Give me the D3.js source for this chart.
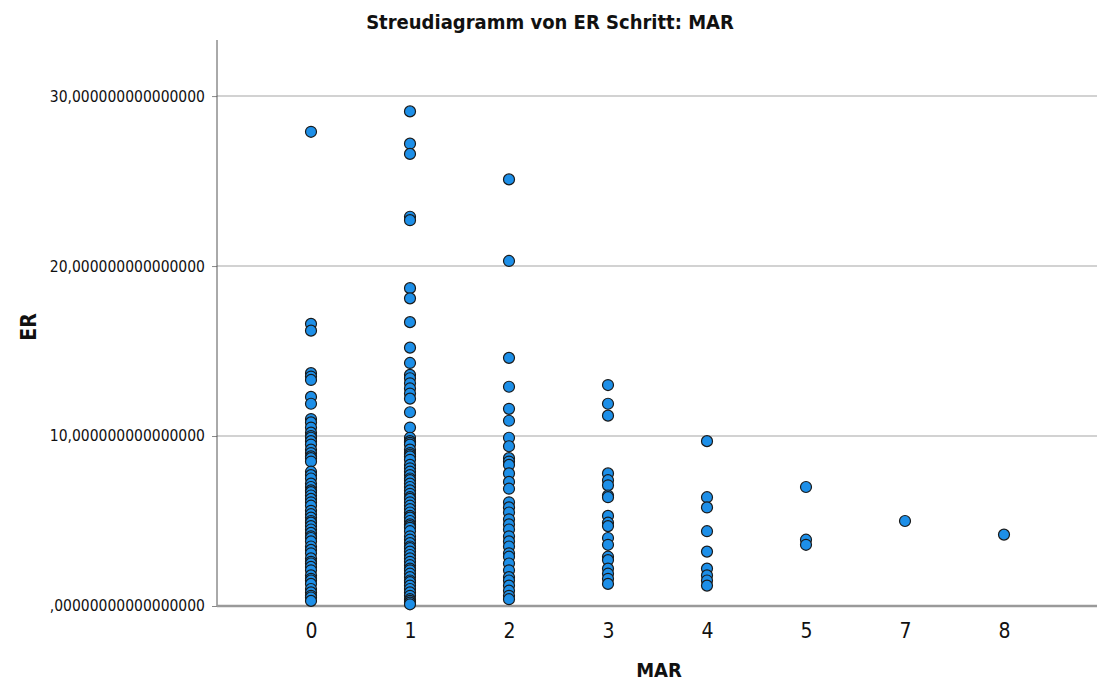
<!DOCTYPE html>
<html>
<head>
<meta charset="utf-8">
<script src="https://cdn.jsdelivr.net/npm/d3@7"></script>
<style>
  body { margin: 0; background: #fff; }
  text { font-family: "DejaVu Sans Condensed", "DejaVu Sans", sans-serif; fill: #111; }
</style>
</head>
<body>
<svg id="chart" width="1097" height="684"></svg>
<script>
// categories on the x axis (MAR), 6 is not present
var marCategories = ["0", "1", "2", "3", "4", "5", "7", "8"];

// ER values, one list per MAR category
var er0 = [27.9, 16.6, 16.2, 13.7, 13.5, 13.3, 12.3, 11.9, 11.0, 10.8, 10.5, 10.2, 10.0, 9.9, 9.7, 9.5,
  9.2, 9.0, 8.8, 8.7, 8.5, 7.9, 7.7, 7.5, 7.2, 7.0, 6.8, 6.7, 6.5, 6.3, 6.1, 5.9, 5.6, 5.4, 5.2,
  5.0, 4.9, 4.7, 4.5, 4.3, 4.1, 4.0, 3.8, 3.5, 3.3, 3.1, 2.8, 2.6, 2.5, 2.3, 2.1, 1.8, 1.6, 1.5,
  1.3, 1.0, 0.8, 0.6, 0.5, 0.3];
var er1 = [29.1, 27.2, 26.6, 22.9, 22.7, 18.7, 18.1, 16.7, 15.2, 14.3, 13.6, 13.4, 13.1, 12.8, 12.5,
  12.2, 11.4, 10.5, 9.9, 9.7, 9.6, 9.5, 9.2, 9.0, 8.9, 8.8, 8.6, 8.3, 8.1, 7.9, 7.7, 7.5, 7.4, 7.2,
  7.0, 6.8, 6.6, 6.4, 6.3, 6.1, 5.9, 5.7, 5.5, 5.3, 5.2, 5.0, 4.8, 4.7, 4.6, 4.4, 4.1, 3.9, 3.7,
  3.5, 3.4, 3.2, 3.0, 2.8, 2.6, 2.4, 2.2, 2.1, 1.9, 1.7, 1.5, 1.4, 1.2, 1.0, 0.8, 0.6, 0.4, 0.3,
  0.2, 0.1];
var er2 = [25.1, 20.3, 14.6, 12.9, 11.6, 10.9, 9.9, 9.4, 8.7, 8.5, 8.3, 7.8, 7.3, 6.9, 6.1, 5.8, 5.5,
  5.1, 4.8, 4.5, 4.1, 3.8, 3.5, 3.1, 2.9, 2.5, 2.1, 1.7, 1.5, 1.2, 0.9, 0.6, 0.4];
var er3 = [13.0, 11.9, 11.2, 7.8, 7.4, 7.1, 6.5, 6.4, 5.3, 4.9, 4.7, 4.0, 3.6, 2.9, 2.7, 2.2, 1.9, 1.6, 1.3];
var er4 = [9.7, 6.4, 5.8, 4.4, 3.2, 2.2, 1.8, 1.5, 1.2];
var er5 = [7.0, 3.9, 3.6];
var er7 = [5.0];
var er8 = [4.2];

var yTickValues = [0, 10, 20, 30];
var yTickLabels = [",00000000000000000", "10,000000000000000", "20,000000000000000", "30,000000000000000"];

var titleText = "Streudiagramm von ER Schritt: MAR";
var xTitle = "MAR";
var yTitle = "ER";

// build point list
var groups = [er0, er1, er2, er3, er4, er5, er7, er8];
var points = [];
groups.forEach(function(g, i) {
  g.forEach(function(v) {
    points.push({ mar: marCategories[i], er: v });
  });
});

var plot = { left: 217, right: 1097, top: 40, bottom: 606 };

var svg = d3.select("#chart");

var x = d3.scalePoint()
  .domain(marCategories)
  .range([311, 1004]);

var y = d3.scaleLinear()
  .domain([0, 33.3])
  .range([plot.bottom, plot.top]);

// gridlines
svg.append("g").selectAll("line")
  .data(yTickValues.filter(function(d) { return d > 0; }))
  .enter().append("line")
  .attr("x1", plot.left)
  .attr("x2", plot.right)
  .attr("y1", function(d) { return y(d); })
  .attr("y2", function(d) { return y(d); })
  .attr("stroke", "#d2d2d2")
  .attr("stroke-width", 2);

// y axis
var yAxis = d3.axisLeft(y)
  .tickValues(yTickValues)
  .tickSize(5)
  .tickPadding(7)
  .tickFormat(function(d, i) { return yTickLabels[i]; });

var gy = svg.append("g")
  .attr("transform", "translate(" + plot.left + ",0)")
  .call(yAxis);
gy.select(".domain").remove();
gy.selectAll(".tick line").attr("stroke", "#888");
gy.selectAll(".tick text")
  .style("font-family", "'DejaVu Sans Condensed', sans-serif")
  .style("font-size", "15.5px")
  .attr("fill", "#111");

svg.append("line")
  .attr("x1", plot.left).attr("x2", plot.left)
  .attr("y1", plot.top).attr("y2", plot.bottom)
  .attr("stroke", "#555").attr("stroke-width", 1);

// x axis
var xAxis = d3.axisBottom(x).tickSize(0).tickPadding(17);
var gx = svg.append("g")
  .attr("transform", "translate(0," + plot.bottom + ")")
  .call(xAxis);
gx.select(".domain").remove();
gx.selectAll(".tick text")
  .style("font-family", "'DejaVu Sans Condensed', sans-serif")
  .style("font-size", "21px")
  .attr("fill", "#111");

svg.append("line")
  .attr("x1", plot.left).attr("x2", plot.right)
  .attr("y1", plot.bottom).attr("y2", plot.bottom)
  .attr("stroke", "#9a9a9a").attr("stroke-width", 2.5);

// points
svg.append("g").selectAll("circle")
  .data(points)
  .enter().append("circle")
  .attr("cx", function(d) { return x(d.mar); })
  .attr("cy", function(d) { return y(d.er); })
  .attr("r", 5.5)
  .attr("fill", "#1d8fe8")
  .attr("stroke", "#1a1a1a")
  .attr("stroke-width", 1.2);

// titles
svg.append("text")
  .attr("x", 550)
  .attr("y", 29)
  .attr("text-anchor", "middle")
  .style("font-size", "20px")
  .style("font-weight", "bold")
  .text(titleText);

svg.append("text")
  .attr("x", 659)
  .attr("y", 677)
  .attr("text-anchor", "middle")
  .style("font-size", "20px")
  .style("font-weight", "bold")
  .text(xTitle);

svg.append("text")
  .attr("transform", "translate(36,327) rotate(-90)")
  .attr("text-anchor", "middle")
  .style("font-size", "21px")
  .style("font-weight", "bold")
  .text(yTitle);
</script>
</body>
</html>
